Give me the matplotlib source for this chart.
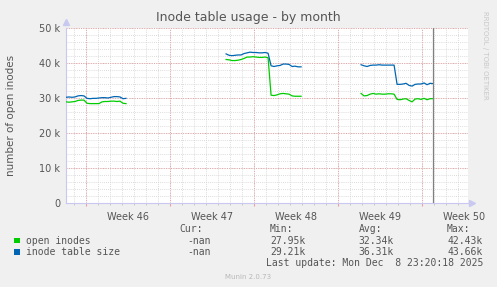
import numpy as np
import matplotlib
matplotlib.use('Agg')
import matplotlib.pyplot as plt
from matplotlib.patches import Rectangle

# datos (dias desde el inicio de la semana 46, valores en miles)
seg_starts = [-1.67, 11.67, 22.92]
paso = 0.25

open_inodes = [
    [28.9, 28.8, 28.9, 29.0, 29.3, 29.4, 29.4, 28.5, 28.4, 28.4, 28.4, 28.4, 28.9, 29.0, 29.0, 29.1, 29.1, 29.0, 29.1, 28.5, 28.4],
    [41.0, 40.9, 40.7, 40.7, 40.8, 41.0, 41.3, 41.7, 41.7, 41.8, 41.7, 41.6, 41.6, 41.7, 41.5, 30.8, 30.7, 30.9, 31.2, 31.3, 31.2, 31.1, 30.6, 30.5, 30.5, 30.5],
    [31.3, 30.6, 30.7, 31.1, 31.3, 31.1, 31.2, 31.1, 31.1, 31.2, 31.2, 31.1, 29.6, 29.5, 29.7, 29.8, 29.3, 28.9, 29.7, 29.8, 29.6, 29.9, 29.5, 29.8, 29.8],
]
table_size = [
    [30.2, 30.3, 30.2, 30.3, 30.6, 30.7, 30.6, 29.9, 29.8, 29.9, 29.9, 30.0, 30.1, 30.1, 30.0, 30.2, 30.4, 30.4, 30.3, 29.8, 29.9],
    [42.6, 42.2, 42.1, 42.2, 42.3, 42.3, 42.7, 42.9, 43.1, 43.0, 43.0, 42.9, 42.9, 43.0, 42.8, 39.2, 39.0, 39.2, 39.3, 39.7, 39.7, 39.6, 39.0, 39.1, 38.9, 38.9],
    [39.5, 39.2, 39.0, 39.3, 39.4, 39.4, 39.5, 39.4, 39.4, 39.4, 39.4, 39.4, 33.9, 33.9, 34.0, 34.2, 33.6, 33.4, 33.9, 34.0, 34.0, 34.3, 33.8, 34.2, 34.1],
]

week_starts = [0, 7, 14, 21, 28]
week_labels = ['Week 46', 'Week 47', 'Week 48', 'Week 49', 'Week 50']
week_label_pos = [3.5, 10.5, 17.5, 24.5, 31.5]
now_day = 28.9

legend_names = ['open inodes', 'inode table size']
legend_colors = ['#00CC00', '#0066B3']
cur_vals = ['-nan', '-nan']
min_vals = ['27.95k', '29.21k']
avg_vals = ['32.34k', '36.31k']
max_vals = ['42.43k', '43.66k']

W, H = 497, 287
BG = '#F0F0F0'
TXT = '#555555'


def px(x, y):
    return x / W, 1 - y / H


fig = plt.figure(figsize=(W / 100, H / 100), dpi=100, facecolor=BG)
ax = fig.add_axes([66 / W, 1 - 203 / H, (468 - 66) / W, 175 / H])
ax.set_facecolor('white')

xmin, xmax = -1.67, 31.83
ax.set_xlim(xmin, xmax)
ax.set_ylim(0, 50000)

# rejilla
for d in range(-1, 32):
    ax.axvline(d, color='#D0D0D0', ls=(0, (1, 1.5)), lw=0.6, zorder=0)
for w in week_starts:
    ax.axvline(w, color='#E8A0A0', ls=(0, (1, 1.5)), lw=0.7, zorder=0)
for v in range(2000, 50001, 2000):
    ax.axhline(v, color='#D0D0D0', ls=(0, (1, 1.5)), lw=0.6, zorder=0)
for v in range(10000, 50001, 10000):
    ax.axhline(v, color='#E8A0A0', ls=(0, (1, 1.5)), lw=0.7, zorder=0)

# series
for k in range(3):
    t = seg_starts[k] + paso * np.arange(len(open_inodes[k]))
    ax.plot(t, np.array(open_inodes[k]) * 1000, color=legend_colors[0], lw=0.9, zorder=3)
    t2 = seg_starts[k] + paso * np.arange(len(table_size[k]))
    ax.plot(t2, np.array(table_size[k]) * 1000, color=legend_colors[1], lw=0.9, zorder=3)

ax.axvline(now_day, color='#808080', lw=0.9, zorder=4)

# ejes
for s in ['top', 'right']:
    ax.spines[s].set_visible(False)
for s in ['left', 'bottom']:
    ax.spines[s].set_color('#C8C8F0')
    ax.spines[s].set_linewidth(0.8)
ax.plot([0], [1.035], marker='^', color='#C8C8F0', ms=4, transform=ax.transAxes, clip_on=False)
ax.plot([1.01], [0], marker='>', color='#C8C8F0', ms=4, transform=ax.transAxes, clip_on=False)

ax.set_yticks(range(0, 50001, 10000))
ax.set_yticklabels(['0', '10 k', '20 k', '30 k', '40 k', '50 k'])
ax.set_xticks(week_starts)
ax.set_xticklabels([])
ax.set_xticks(range(-1, 32), minor=True)
ax.tick_params(axis='y', length=0, labelsize=7, labelcolor=TXT, pad=4)
ax.tick_params(axis='x', which='major', length=2, color='#E8A0A0')
ax.tick_params(axis='x', which='minor', length=1.5, color='#C0C0C0')
for p, lab in zip(week_label_pos, week_labels):
    ax.text(p, -0.05, lab, transform=ax.get_xaxis_transform(), ha='center', va='top',
            fontsize=7, color=TXT)

fig.text(*px(248, 18), 'Inode table usage - by month', ha='center', va='center',
         fontsize=9, color=TXT)
fig.text(*px(11, 115), 'number of open inodes', rotation=90, ha='center', va='center',
         fontsize=7.5, color=TXT)
fig.text(*px(485, 55), 'RRDTOOL / TOBI OETIKER', rotation=270, ha='center', va='center',
         fontsize=5, color='#C8C8C8')

# leyenda
mono = 'DejaVu Sans Mono'
fs = 7
fig.text(*px(203, 229), 'Cur:', ha='right', va='center', family=mono, fontsize=fs, color=TXT)
fig.text(*px(293, 229), 'Min:', ha='right', va='center', family=mono, fontsize=fs, color=TXT)
fig.text(*px(382, 229), 'Avg:', ha='right', va='center', family=mono, fontsize=fs, color=TXT)
fig.text(*px(470, 229), 'Max:', ha='right', va='center', family=mono, fontsize=fs, color=TXT)
rows_y = [240.5, 252]
for i in range(2):
    y = rows_y[i]
    x0, y0 = px(14, y + 2.5)
    fig.add_artist(Rectangle((x0, y0), 5.5 / W, 5.5 / H, transform=fig.transFigure,
                             facecolor=legend_colors[i], edgecolor='none'))
    fig.text(*px(26, y), legend_names[i], ha='left', va='center', family=mono, fontsize=fs, color=TXT)
    fig.text(*px(211, y), cur_vals[i], ha='right', va='center', family=mono, fontsize=fs, color=TXT)
    fig.text(*px(306, y), min_vals[i], ha='right', va='center', family=mono, fontsize=fs, color=TXT)
    fig.text(*px(394, y), avg_vals[i], ha='right', va='center', family=mono, fontsize=fs, color=TXT)
    fig.text(*px(483, y), max_vals[i], ha='right', va='center', family=mono, fontsize=fs, color=TXT)
fig.text(*px(483, 263.5), 'Last update: Mon Dec  8 23:20:18 2025', ha='right', va='center',
         family=mono, fontsize=fs, color=TXT)
fig.text(*px(248, 277), 'Munin 2.0.73', ha='center', va='center', fontsize=5, color='#B8B8B8')

fig.savefig('out.png', dpi=100, facecolor=BG)
